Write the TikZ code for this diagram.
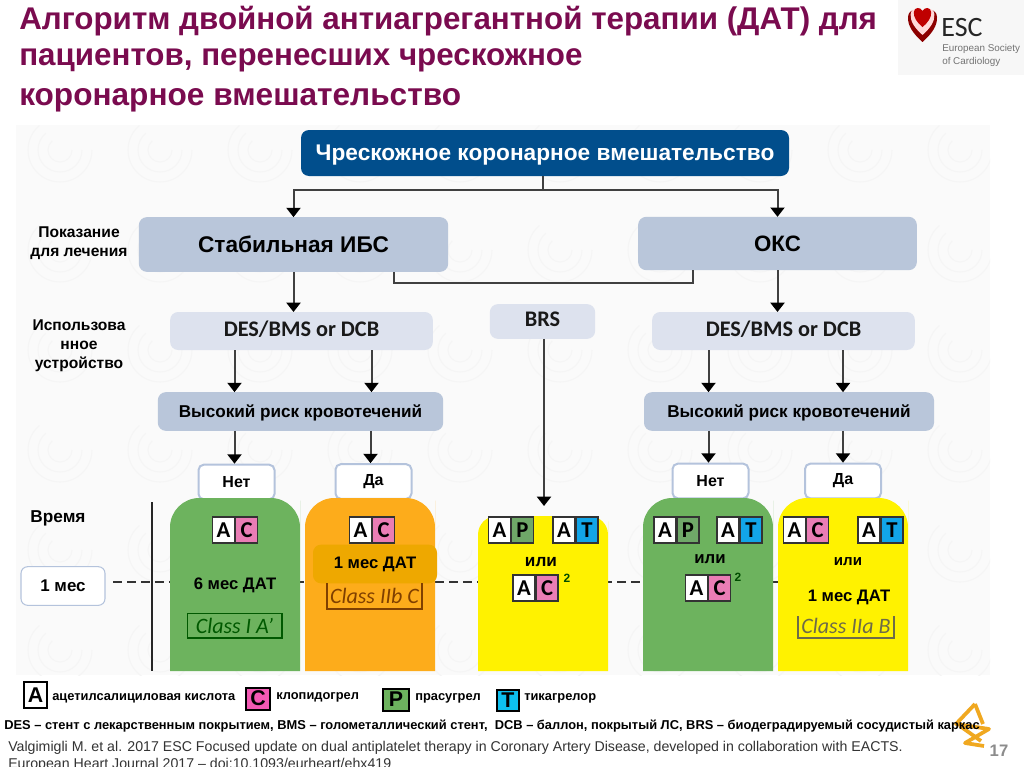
\documentclass[tikz,border=0pt]{standalone}
\usepackage{fontspec}
\setmainfont{Liberation Sans}
\newfontfamily\calibri{Carlito}
\usetikzlibrary{arrows.meta}
\definecolor{titlecol}{HTML}{7A0B4F}
\definecolor{navy}{HTML}{014E8C}
\definecolor{boxblue}{HTML}{B9C6DA}
\definecolor{paleblue}{HTML}{DDE2EE}
\definecolor{edgeblue}{HTML}{B4C3DC}
\definecolor{greenbar}{HTML}{6DB35E}
\definecolor{orangebar}{HTML}{FDAC1B}
\definecolor{orangebox}{HTML}{EEA800}
\definecolor{yellowbar}{HTML}{FFF200}
\definecolor{pinktag}{HTML}{EA7DB5}
\definecolor{greentag}{HTML}{6FA868}
\definecolor{bluetag}{HTML}{12A5E8}
\definecolor{azorange}{HTML}{F0A820}
\tikzset{
  arr/.style={draw=black!75, line width=1.5pt, -{Triangle[width=10.5pt,length=7pt,color=black]}},
  link/.style={draw=black!75, line width=1.2pt},
  rbox/.style={minimum width=#1, rounded corners=6pt, inner sep=0pt, outer sep=0pt, text depth=0pt, font=\fontsize{12.85}{14}\selectfont\bfseries},
  devbox/.style={rbox=#1, minimum height=28.5pt, fill=paleblue, text depth=3pt, text=black!90, font=\calibri\bfseries\fontsize{16.7}{18}\selectfont},
  ans/.style={draw=edgeblue, line width=1.5pt, fill=white, rounded corners=4pt, minimum width=57pt, minimum height=26pt, inner sep=0pt, font=\fontsize{12}{14}\selectfont\bfseries},
  lab/.style={font=\fontsize{11.7}{14.25}\selectfont\bfseries, align=center, inner sep=0pt},
  dat/.style={font=\fontsize{12.5}{14}\selectfont\bfseries, inner sep=0pt},
  orword/.style={font=\fontsize{#1}{14}\selectfont\bfseries, inner sep=0pt},
  tag/.style={draw=black!80, line width=1pt, minimum width=16.5pt, minimum height=19.5pt, inner sep=0pt, outer sep=0pt, font=\calibri\fontsize{17}{17}\selectfont\bfseries},
  cls/.style={font=\calibri\itshape\fontsize{16.5}{16.5}\selectfont, inner sep=0pt},
  key/.style={font=\fontsize{9.65}{11}\selectfont\bfseries, inner sep=0pt, anchor=west},
  keybox/.style={draw=black, line width=1.5pt, inner sep=0pt, outer sep=0pt, font=\fontsize{16}{16}\selectfont\bfseries},
  note/.style={inner sep=0pt, anchor=base west},
  titleline/.style={anchor=base west, inner sep=0pt, text=titlecol, font=\fontsize{#1}{26}\selectfont\bfseries},
  swirl/.style={draw=black!4, line width=0.8pt},
  azline/.style={draw=azorange, line width=2.8pt, line join=round}
}
% two boxes side by side, letter and letter
\newcommand{\drugtag}[6]{%
  \node[tag, fill=white] (#1a) at (#2,#3) {#4};
  \node[tag, fill=#6] (#1b) at (#2+23,#3) {#5};
}
\newcommand{\heartshape}{(0,27) .. controls (-9,19) and (-15,11) .. (-14.5,2) .. controls (-14,-7) and (-3,-7) .. (0,0) .. controls (3,-7) and (14,-7) .. (14.5,2) .. controls (15,11) and (9,19) .. (0,27) -- cycle}
\begin{document}
\begin{tikzpicture}[x=0.75pt, y=-0.75pt]
\useasboundingbox (0,0) rectangle (1024,767);
\fill[white] (0,0) rectangle (1024,767);
\fill[black!2] (16,125) rectangle (990,675);
\begin{scope}
\clip (16,125) rectangle (990,675);
\foreach \i in {0,...,9} \foreach \j in {0,...,5} \foreach \r in {12,22,32}
  \draw[swirl] (60+\i*100+\r,150+\j*100) arc[start angle=0, end angle=230, radius=\r];
\end{scope}

% title
\node[titleline=23.5] (title1) at (19,30) {Алгоритм двойной антиагрегантной терапии (ДАТ) для};
\node[titleline=23.5] (title2) at (19,66) {пациентов, перенесших чрескожное};
\node[titleline=23.7] (title3) at (19,105) {коронарное вмешательство};

% ESC logo
\fill[black!3] (898,0) rectangle (1024,75);
\begin{scope}[shift={(922.5,15)}]
\fill[red!55!black] \heartshape;
\fill[red!15!white, scale=0.82, yshift=2pt] \heartshape;
\fill[red!75!black, scale=0.6, yshift=5pt] \heartshape;
\end{scope}
\node[inner sep=0pt, font=\calibri\fontsize{21}{21}\selectfont, text=black!85] (esc) at (962,28) {ESC};
\node[inner sep=0pt, anchor=west, align=left, text=black!55, font=\fontsize{7.4}{10}\selectfont] (escname) at (942,55.5) {European Society\\of Cardiology};

% top of the tree
\node[rbox=366pt, minimum height=34.5pt, fill=navy, text=white, font=\fontsize{17}{19}\selectfont\bfseries] (pci) at (545,153) {Чрескожное коронарное вмешательство};
\node[rbox=232pt, minimum height=41pt, fill=boxblue, font=\fontsize{17}{19}\selectfont\bfseries] (sihd) at (293.5,244.5) {Стабильная ИБС};
\node[rbox=209pt, minimum height=40pt, fill=boxblue, font=\fontsize{16.7}{19}\selectfont\bfseries] (acs) at (777.5,243.5) {ОКС};
\node[lab] (indic) at (79,243) {Показание\\для лечения};
\node[lab] (device) at (79,346) {Использова\\нное\\устройство};

% devices
\node[devbox=197pt] (devL) at (301.5,331) {DES/BMS or DCB};
\node[devbox=197pt] (devR) at (783.5,331) {DES/BMS or DCB};
\node[devbox=79pt, minimum height=26pt] (brs) at (542.5,321.5) {BRS};

% bleeding risk
\node[rbox=214pt, minimum height=29pt, fill=boxblue] (riskL) at (300.5,411.5) {Высокий риск кровотечений};
\node[rbox=217.5pt, minimum height=29pt, fill=boxblue] (riskR) at (789,411.5) {Высокий риск кровотечений};

% answers
\node[ans] (noL) at (236.5,482) {Нет};
\node[ans] (yesL) at (373.5,481.5) {Да};
\node[ans] (noR) at (710.5,481) {Нет};
\node[ans] (yesR) at (843,481) {Да};

% time axis
\node[lab, font=\fontsize{12.9}{14}\selectfont\bfseries] (time) at (58,518) {Время};
\node[draw=edgeblue, line width=0.8pt, fill=white, rounded corners=5pt, minimum width=63pt, minimum height=29pt, inner sep=0pt, font=\fontsize{12.7}{14}\selectfont\bfseries] (month) at (63,586) {1 мес};
\coordinate (dashA) at (113,582);
\coordinate (dashB) at (778,582);
\coordinate (axisA) at (152,502);
\coordinate (axisB) at (152,671);
\draw[black!80, line width=1.5pt, dash pattern=on 7pt off 3.5pt] (dashA) -- (dashB);
\draw[black!85, line width=1.8pt] (axisA) -- (axisB);

% columns
\fill[greenbar, rounded corners=22pt] (170,671) [sharp corners] -- (170,530) [rounded corners=22pt] -- (170,498) -- (300,498) -- (300,530) [sharp corners] -- (300,671) -- cycle;
\fill[orangebar, rounded corners=22pt] (305,671) [sharp corners] -- (305,530) [rounded corners=22pt] -- (305,498) -- (435,498) -- (435,530) [sharp corners] -- (435,671) -- cycle;
\fill[yellowbar, rounded corners=14pt] (478,671) [sharp corners] -- (478,540) [rounded corners=14pt] -- (478,516) -- (608,516) -- (608,540) [sharp corners] -- (608,671) -- cycle;
\fill[greenbar, rounded corners=22pt] (643,671) [sharp corners] -- (643,530) [rounded corners=22pt] -- (643,498) -- (773,498) -- (773,530) [sharp corners] -- (773,671) -- cycle;
\fill[yellowbar, rounded corners=22pt] (778,671) [sharp corners] -- (778,530) [rounded corners=22pt] -- (778,498) -- (908,498) -- (908,530) [sharp corners] -- (908,671) -- cycle;

% connectors
\coordinate (forkT) at (543,190);
\coordinate (mergeL) at (394,283);
\coordinate (mergeR) at (693,283);
\draw[link] (pci.south -| forkT) -- (forkT);
\draw[arr] (forkT) -| (sihd.north);
\draw[arr] (forkT) -| (acs.north);
\draw[link] (sihd.south -| mergeL) -- (mergeL) -- (mergeR) -- (acs.south -| mergeR);
\draw[arr] (sihd.south) -- (devL.north -| sihd.south);
\draw[arr] (acs.south) -- (devR.north -| acs.south);
\draw[arr] (devL.south -| noL) ++(-2,0) -- (riskL.north -| 234.5,0);
\draw[arr] (devL.south -| yesL) ++(-2,0) -- (riskL.north -| 371.5,0);
\draw[arr] (riskL.south -| noL) ++(-2,0) -- (noL.north -| 234.5,0);
\draw[arr] (riskL.south -| yesL) ++(-3,0) -- (yesL.north -| 370.5,0);
\draw[arr] (devR.south -| noR) ++(-2,0) -- (riskR.north -| 708.5,0);
\draw[arr] (devR.south -| yesR) -- (riskR.north -| yesR);
\draw[arr] (riskR.south -| noR) ++(-2,0) -- (noR.north -| 708.5,0);
\draw[arr] (riskR.south -| yesR) -- (yesR.north);
\coordinate (brsTip) at (544,506);
\draw[arr] (brs.south -| brsTip) -- (brsTip);

% column contents
\drugtag{g1}{223.5}{530}{A}{C}{pinktag}
\node[dat] (g1dat) at (235,585) {6 мес ДАТ};
\node[cls, draw=green!35!black, line width=1pt, text=green!35!black, minimum width=71pt, minimum height=18.5pt] (g1cls) at (234.5,625.5) {Class I A’};

\drugtag{o1}{360.5}{530}{A}{C}{pinktag}
\node[fill=orangebox, rounded corners=6pt, minimum width=93pt, minimum height=29pt, inner sep=0pt, outer sep=0pt, font=\fontsize{12.5}{14}\selectfont\bfseries] (o1dat) at (375,564) {1 мес ДАТ};
\node[cls, text=orange!50!black] (o1cls) at (374.5,596) {Class IIb C};
\draw[orange!50!black, line width=1pt] (o1cls.center) ++(-47.5,-13) -- ++(0,26) -- ++(95,0) -- ++(0,-26);

\drugtag{y1}{499.5}{530}{A}{P}{greentag}
\drugtag{y2}{564}{530}{A}{T}{bluetag}
\node[orword=12.9] (y1or) at (541,562) {или};
\drugtag{y3}{524}{588}{A}{C}{pinktag}
\node[font=\fontsize{9}{9}\selectfont\bfseries, text=green!30!black, inner sep=0pt] (y1sup) at (567,578) {2};

\drugtag{g2}{665}{530}{A}{P}{greentag}
\drugtag{g3}{728}{530}{A}{T}{bluetag}
\node[orword=12.6] (g2or) at (710,559) {или};
\drugtag{g4}{696.5}{588}{A}{C}{pinktag}
\node[font=\fontsize{9}{9}\selectfont\bfseries, text=green!30!black, inner sep=0pt] (g2sup) at (738,577) {2};

\drugtag{y4}{794.5}{530}{A}{C}{pinktag}
\drugtag{y5}{869}{530}{A}{T}{bluetag}
\node[orword=11.3] (y4or) at (848,562) {или};
\node[dat] (y4dat) at (849,597) {1 мес ДАТ};
\node[cls, text=yellow!35!black] (y4cls) at (846,626) {Class IIa B};
\draw[yellow!35!black, line width=1pt] (y4cls.center) ++(-48,-10) -- ++(0,22) -- ++(96,0) -- ++(0,-22);

% legend
\node[keybox, fill=white, minimum width=17pt, minimum height=19pt] (keyA) at (35.5,695) {A};
\node[key] (keyAt) at (52,698) {ацетилсалициловая кислота};
\node[keybox, fill=magenta!65!white, minimum width=18.5pt, minimum height=16.5pt] (keyC) at (258,698.5) {C};
\node[key] (keyCt) at (276,697) {клопидогрел};
\node[keybox, fill=greenbar, minimum width=20pt, minimum height=16.5pt] (keyP) at (396,699.5) {P};
\node[key] (keyPt) at (415,698) {прасугрел};
\node[keybox, fill=bluetag!70!cyan, minimum width=16.5pt, minimum height=15.5pt] (keyT) at (508,700.5) {T};
\node[key] (keyTt) at (524,698) {тикагрелор};

% corner mark under the notes
\draw[azline] (975,704) -- (956,724) -- (989,729) -- (965,743) -- (984,746);
\draw[azline] (975,704) -- (983,724);
\draw[azline] (960,726) -- (981,741);

% notes
\node[note, font=\fontsize{9.65}{11}\selectfont\bfseries] (abbr) at (4,729) {DES – стент с лекарственным покрытием, BMS – голометаллический стент, \ DCB – баллон, покрытый ЛС, BRS – биодеградируемый сосудистый каркас};
\node[note, text=black!80, font=\fontsize{10.63}{12}\selectfont] (ref1) at (8,751) {Valgimigli M. et al. 2017 ESC Focused update on dual antiplatelet therapy in Coronary Artery Disease, developed in collaboration with EACTS.};
\node[note, text=black!80, font=\fontsize{10.63}{12}\selectfont] (ref2) at (8,768) {European Heart Journal 2017 – doi:10.1093/eurheart/ehx419};

% page number
\node[inner sep=0pt, text=black!45, font=\fontsize{12.5}{14}\selectfont\bfseries] (pageno) at (999,751) {17};
\end{tikzpicture}
\end{document}
